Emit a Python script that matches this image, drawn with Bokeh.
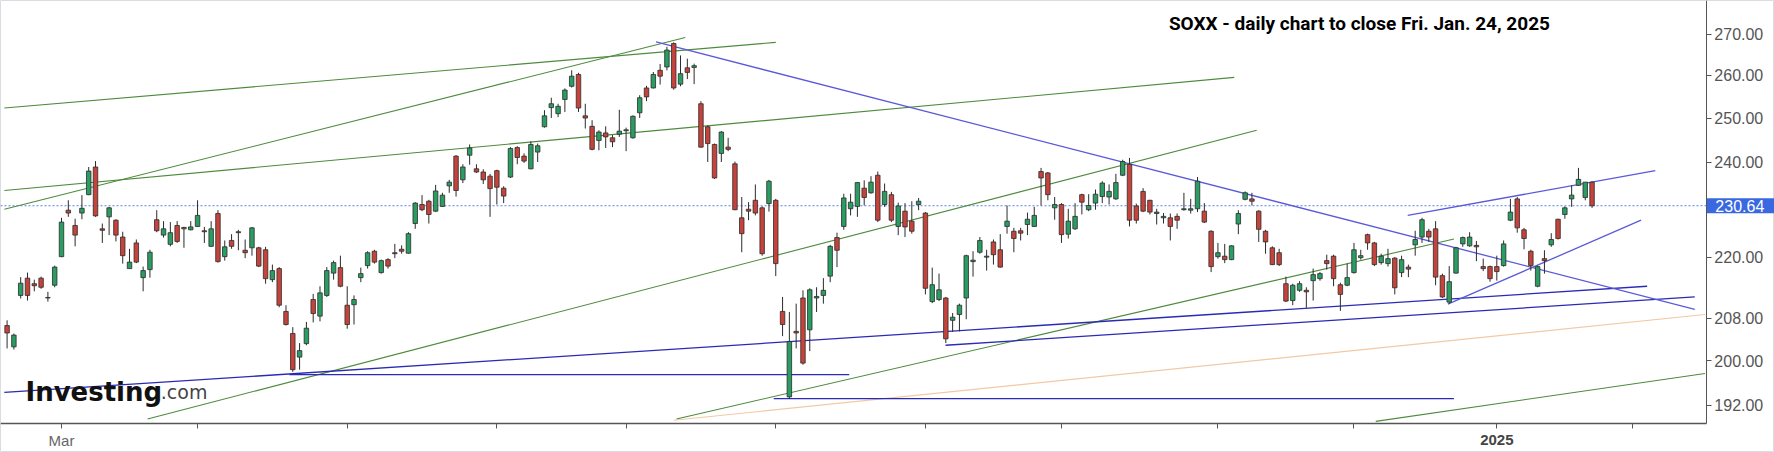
import pandas as pd
from bokeh.plotting import figure
from bokeh.models import (ColumnDataSource, Range1d, FixedTicker, NumeralTickFormatter, Label)
from bokeh.embed import file_html
from bokeh.resources import INLINE
from bokeh.core.properties import value

# ---------------- data ----------------
OPEN = [206.6, 202.6, 212.4, 215.8, 214.7, 215.8, 212.0, 214.4, 220.1, 229.7,
        226.5, 229.1, 233.0, 239.0, 225.8, 228.3, 227.6, 224.1, 217.7, 222.9,
        215.9, 217.5, 227.7, 224.5, 222.6, 226.5, 226.1, 225.6, 226.3, 225.4,
        222.2, 229.0, 220.1, 223.4, 225.0, 221.4, 221.9, 221.9, 221.5, 215.5,
        217.7, 209.3, 205.1, 200.7, 203.2, 211.6, 208.4, 212.4, 216.8, 217.9,
        210.5, 210.6, 215.9, 218.3, 221.2, 216.9, 219.5, 220.9, 221.6, 220.8,
        226.9, 230.9, 231.6, 229.5, 230.5, 234.9, 241.4, 236.2, 241.6, 238.6,
        237.9, 237.0, 238.2, 234.4, 236.8, 243.3, 241.4, 238.6, 242.3, 248.0,
        252.4, 251.0, 254.3, 257.4, 260.2, 250.5, 248.1, 244.9, 246.6, 245.5,
        246.3, 247.1, 245.5, 251.2, 257.0, 257.0, 261.2, 262.0, 267.7, 257.9,
        261.8, 261.9, 253.3, 248.0, 244.0, 242.0, 243.4, 239.7, 228.1, 229.9,
        231.8, 230.2, 231.1, 231.8, 209.3, 193.5, 205.5, 211.9, 205.8, 211.9,
        212.4, 216.2, 224.0, 226.3, 230.0, 230.5, 234.4, 233.4, 237.2, 230.9,
        233.0, 226.3, 229.5, 227.4, 230.9, 229.1, 211.2, 211.6, 211.9, 207.6,
        208.7, 211.9, 219.1, 221.0, 220.0, 223.1, 221.5, 226.3, 225.3, 225.4,
        226.7, 226.3, 238.0, 237.7, 230.2, 230.9, 224.7, 225.8, 233.0, 229.8,
        231.2, 232.6, 232.5, 232.1, 237.2, 239.6, 230.6, 233.7, 231.8, 229.0,
        228.1, 228.1, 228.4, 229.8, 229.7, 230.0, 229.5, 225.3, 220.1, 220.2,
        219.5, 226.8, 232.0, 232.1, 229.5, 225.3, 221.9, 220.9, 214.7, 211.4,
        213.4, 213.4, 215.3, 215.7, 219.3, 220.2, 214.5, 214.4, 216.9, 219.9,
        224.6, 222.9, 218.9, 218.7, 219.8, 216.9, 218.0, 222.5, 224.1, 225.3,
        225.8, 216.3, 211.1, 216.8, 222.7, 222.3, 222.4, 218.1, 218.1, 218.1,
        218.3, 227.6, 232.1, 225.6, 221.2, 214.2, 219.7, 222.5, 227.8, 228.8,
        232.1, 235.0, 232.4, 235.7]
HIGH = [207.6, 205.1, 216.0, 216.9, 215.5, 216.1, 213.1, 218.3, 228.1, 231.8,
        227.9, 232.9, 239.0, 240.3, 226.9, 230.4, 227.8, 225.2, 221.7, 223.6,
        218.1, 221.5, 229.7, 227.4, 227.2, 227.4, 226.2, 227.4, 231.8, 226.2,
        227.4, 229.7, 223.4, 224.7, 225.6, 223.6, 226.2, 222.1, 222.1, 218.5,
        218.0, 210.5, 206.3, 203.3, 207.3, 212.7, 214.2, 218.0, 219.3, 220.3,
        214.2, 212.4, 217.9, 221.2, 221.5, 219.5, 219.8, 222.7, 222.4, 225.1,
        231.4, 232.9, 231.9, 235.1, 233.4, 236.2, 241.6, 239.6, 244.0, 239.6,
        238.5, 237.5, 238.4, 234.8, 243.4, 243.6, 242.0, 244.7, 244.2, 251.8,
        254.7, 253.3, 256.9, 261.2, 260.6, 253.3, 249.5, 247.2, 248.1, 246.1,
        251.9, 247.8, 250.6, 255.3, 257.5, 260.8, 262.7, 266.9, 268.0, 264.8,
        264.0, 262.8, 253.9, 248.3, 244.2, 247.0, 245.5, 240.2, 232.5, 231.4,
        235.2, 230.5, 236.2, 232.1, 212.1, 209.2, 210.8, 213.4, 213.8, 214.0,
        215.8, 222.5, 225.0, 233.2, 233.2, 235.7, 236.1, 237.0, 238.0, 235.4,
        233.6, 231.3, 231.2, 231.6, 232.3, 229.3, 217.9, 216.7, 212.1, 209.0,
        210.8, 220.5, 221.2, 224.1, 221.5, 223.6, 224.7, 230.7, 226.0, 226.0,
        229.2, 230.4, 238.8, 237.9, 232.5, 231.2, 230.0, 231.2, 233.2, 233.1,
        234.1, 235.9, 235.2, 237.5, 240.6, 241.0, 231.1, 234.4, 231.9, 230.0,
        229.1, 229.0, 229.0, 233.4, 232.1, 236.8, 231.2, 225.5, 222.9, 222.7,
        222.4, 229.7, 233.7, 233.4, 229.7, 225.6, 222.2, 221.7, 216.1, 214.7,
        215.2, 214.0, 217.7, 217.0, 220.5, 220.5, 214.9, 218.7, 222.9, 221.5,
        224.8, 223.1, 220.7, 221.7, 220.0, 220.3, 218.5, 225.4, 228.1, 225.8,
        227.4, 216.7, 218.2, 222.1, 224.2, 225.1, 223.3, 219.7, 218.3, 220.3,
        223.4, 232.1, 232.5, 226.0, 221.5, 218.3, 221.4, 224.9, 227.9, 230.5,
        235.0, 238.8, 235.7, 235.9]
LOW = [202.3, 202.1, 211.8, 211.4, 213.2, 213.7, 211.2, 214.0, 220.0, 228.3,
       222.2, 227.8, 232.9, 228.3, 222.9, 224.5, 223.2, 218.7, 217.7, 218.8,
       213.2, 215.9, 225.1, 224.0, 222.2, 222.9, 221.9, 225.5, 226.2, 222.9,
       222.1, 218.9, 219.3, 221.7, 221.4, 219.8, 220.3, 218.0, 214.7, 215.0,
       210.1, 206.6, 198.0, 198.4, 202.9, 207.2, 207.4, 212.1, 215.5, 214.0,
       206.0, 206.8, 215.0, 217.7, 218.7, 216.7, 217.7, 219.8, 220.7, 220.7,
       225.8, 229.5, 226.9, 229.3, 230.4, 233.4, 232.6, 235.5, 239.5, 237.7,
       235.3, 228.3, 230.9, 231.2, 236.6, 239.6, 239.9, 238.5, 240.1, 247.8,
       250.0, 250.2, 251.4, 257.1, 251.4, 247.6, 242.7, 242.7, 243.2, 243.4,
       245.7, 242.5, 245.3, 250.0, 253.9, 256.9, 257.8, 261.2, 256.6, 257.4,
       259.1, 257.9, 243.3, 240.1, 236.4, 240.1, 242.5, 229.7, 221.0, 227.6,
       228.6, 220.3, 229.4, 216.2, 204.6, 193.2, 202.3, 199.3, 201.8, 209.2,
       210.8, 215.0, 218.0, 225.6, 228.6, 228.3, 230.7, 233.2, 227.2, 230.4,
       227.2, 224.5, 224.1, 224.8, 229.7, 212.6, 210.9, 211.3, 203.3, 205.4,
       205.5, 207.8, 216.1, 220.7, 217.3, 218.5, 217.9, 224.8, 221.0, 223.4,
       224.5, 226.2, 230.7, 231.8, 227.7, 222.9, 223.8, 225.6, 228.8, 229.5,
       229.8, 231.2, 230.9, 231.9, 237.0, 226.3, 226.9, 229.3, 228.8, 226.7,
       226.9, 223.4, 225.8, 229.6, 229.0, 229.3, 227.0, 217.0, 219.7, 218.8,
       219.4, 224.7, 231.8, 230.7, 223.1, 220.7, 218.4, 218.2, 211.1, 210.5,
       213.1, 210.0, 211.4, 215.3, 217.5, 214.2, 209.4, 214.2, 216.7, 219.5,
       221.5, 218.2, 218.5, 218.1, 212.6, 216.0, 216.0, 220.3, 222.9, 223.1,
       214.4, 211.9, 210.8, 216.7, 222.1, 222.1, 219.2, 217.2, 215.1, 215.3,
       218.1, 227.4, 225.0, 221.6, 217.3, 214.0, 216.7, 222.1, 223.6, 227.9,
       230.4, 234.9, 231.8, 230.2]
CLOSE = [205.2, 204.8, 214.8, 212.4, 214.3, 214.0, 211.9, 218.0, 227.2, 229.1,
         224.5, 230.1, 238.1, 228.5, 225.5, 230.2, 224.5, 220.3, 219.0, 219.0,
         217.3, 221.0, 225.4, 225.8, 225.0, 223.2, 225.8, 226.2, 228.6, 225.2,
         225.8, 219.1, 222.1, 222.2, 225.2, 220.9, 226.0, 218.2, 215.7, 217.3,
         210.5, 206.8, 198.4, 201.9, 206.1, 208.9, 212.9, 217.3, 218.9, 214.2,
         206.8, 211.6, 216.7, 220.9, 219.0, 219.3, 218.2, 220.7, 221.2, 224.8,
         231.2, 229.8, 228.8, 233.8, 232.9, 235.7, 233.9, 239.0, 243.2, 237.9,
         236.2, 234.3, 234.6, 232.7, 243.1, 241.1, 240.3, 244.0, 243.7, 250.5,
         253.3, 252.7, 256.5, 259.8, 252.3, 250.0, 242.9, 246.8, 245.7, 244.6,
         247.0, 247.3, 250.4, 254.7, 254.9, 260.2, 259.8, 266.1, 257.0, 260.4,
         260.7, 262.3, 243.4, 244.2, 236.6, 246.8, 242.9, 229.8, 224.8, 229.5,
         229.1, 220.7, 235.9, 218.7, 206.8, 203.6, 205.2, 199.6, 213.5, 212.2,
         213.4, 222.2, 221.4, 232.3, 231.4, 235.6, 232.4, 235.7, 227.6, 233.7,
         227.6, 230.6, 226.2, 225.3, 231.6, 213.8, 214.5, 213.5, 204.1, 208.2,
         210.5, 220.3, 219.4, 223.4, 220.2, 220.5, 218.0, 227.4, 223.8, 224.9,
         227.8, 228.6, 236.6, 233.0, 230.9, 224.6, 227.4, 228.4, 231.4, 230.7,
         233.1, 235.5, 233.7, 235.6, 240.2, 227.6, 227.6, 229.5, 229.3, 229.3,
         228.4, 226.3, 227.6, 230.0, 230.0, 235.9, 227.2, 218.1, 220.9, 219.5,
         222.3, 229.0, 233.4, 231.6, 225.7, 223.1, 218.5, 218.5, 211.3, 214.4,
         214.7, 213.1, 216.5, 216.7, 218.7, 215.7, 212.6, 215.9, 221.5, 220.3,
         222.9, 218.5, 220.2, 219.7, 213.9, 219.5, 217.6, 223.6, 227.7, 224.1,
         216.0, 212.1, 215.1, 221.9, 224.0, 224.1, 222.1, 217.7, 215.7, 217.1,
         222.7, 229.3, 226.0, 223.8, 218.3, 218.1, 219.3, 223.6, 223.8, 230.2,
         232.9, 236.3, 235.7, 230.64]

FIRST_DAY = "2024-02-20"
HOLIDAYS = ["2024-03-29", "2024-05-27", "2024-06-19", "2024-07-04", "2024-09-02",
            "2024-11-28", "2024-12-25", "2025-01-01", "2025-01-09", "2025-01-20",
            "2025-02-17"]
LAST_PRICE = 230.64
PRICE_TICKS = [192, 200, 208, 220, 240, 250, 260, 270]
MONTH_LABELS = {"2024-03": "Mar", "2025-01": "2025"}
TITLE = "SOXX - daily chart to close Fri. Jan. 24, 2025"

# trend lines: (start index, start price) -> (end index, end price)
GREEN_X0 = [-0.4, -0.4, -0.4, 20.65, 98.4, 201.2]
GREEN_Y0 = [252.3, 229.9, 233.9, 189.6, 189.6, 189.2]
GREEN_X1 = [113.0, 99.7, 180.4, 183.7, 212.7, 249.6]
GREEN_Y1 = [268.0, 269.2, 259.5, 247.2, 223.7, 197.7]

NAVY_X0 = [-0.4, 137.96, 41.5, 112.7]
NAVY_Y0 = [194.3, 202.9, 197.5, 193.2]
NAVY_X1 = [241.1, 248.1, 123.8, 212.7]
NAVY_Y1 = [214.2, 212.1, 197.5, 193.2]

VIOLET_X0 = [95.4, 205.9, 211.8]
VIOLET_Y0 = [268.1, 228.6, 210.7]
VIOLET_X1 = [248.1, 242.3, 240.2]
VIOLET_Y1 = [209.7, 238.2, 227.6]

PEACH_X0 = [98.0]
PEACH_Y0 = [189.4]
PEACH_X1 = [249.6]
PEACH_Y1 = [208.7]

# ---------------- layout constants (view window, not data) ----------------
X_VIEW = (-0.968, 259.82)      # full canvas width in bar-index units
Y_VIEW = (183.86, 278.5)       # full canvas height in price units (log)
X_AXIS_AT = 249.8              # where the price axis sits
Y_AXIS_AT = 188.8              # where the time axis sits
LABEL_Y = 185.9                # month labels below the time axis

# ---------------- build ----------------
n = len(OPEN)
cal = pd.bdate_range(FIRST_DAY, "2025-02-28", freq="C", holidays=HOLIDAYS)
idx = list(range(n))

month_idx, month_key = [], []
prev = None
for i, d in enumerate(cal):
    k = d.strftime("%Y-%m")
    if prev is not None and k != prev:
        month_idx.append(i)
        month_key.append(k)
    prev = k

up = [c >= o for o, c in zip(OPEN, CLOSE)]
def pick(flag):
    sel = [i for i in idx if up[i] == flag]
    return ColumnDataSource(dict(
        x=sel,
        top=[max(OPEN[i], CLOSE[i]) for i in sel],
        bottom=[min(OPEN[i], CLOSE[i]) for i in sel],
        high=[HIGH[i] for i in sel], low=[LOW[i] for i in sel]))
src_up, src_dn = pick(True), pick(False)

p = figure(width=1774, height=452, output_backend="svg", toolbar_location=None,
           x_range=Range1d(*X_VIEW), y_range=Range1d(*Y_VIEW),
           y_axis_type="log", y_axis_location="right",
           min_border=0)
p.background_fill_color = "white"
p.border_fill_color = "white"
p.outline_line_color = "#d9dde3"
p.grid.visible = False

# last-price dotted line (up to the price axis)
p.segment(x0=[X_VIEW[0]], x1=[X_AXIS_AT], y0=[LAST_PRICE], y1=[LAST_PRICE],
          line_color="#5b7fe6", line_dash="2 2", line_width=1)

# trend lines
def seg(x0, y0, x1, y1, color, width=1.1):
    p.segment(x0=x0, y0=y0, x1=x1, y1=y1, line_color=color, line_width=width)

seg(GREEN_X0, GREEN_Y0, GREEN_X1, GREEN_Y1, "#4e8a3e")
seg(PEACH_X0, PEACH_Y0, PEACH_X1, PEACH_Y1, "#f2c9a5")
seg(NAVY_X0, NAVY_Y0, NAVY_X1, NAVY_Y1, "#2a2ab4", 1.3)
seg(VIOLET_X0, VIOLET_Y0, VIOLET_X1, VIOLET_Y1, "#5a5ad8", 1.3)

# candles
for src, fill in ((src_up, "#2a9d62"), (src_dn, "#c6433b")):
    p.segment(x0="x", y0="low", x1="x", y1="high", source=src, line_color="#2b2b2b", line_width=1)
    p.vbar(x="x", top="top", bottom="bottom", width=0.66, source=src,
           fill_color=fill, line_color="#2b2b2b", line_width=0.8)

# last-price badge on the price axis
badge_half = 1.0069
p.quad(left=[X_AXIS_AT], right=[X_VIEW[1]], bottom=[LAST_PRICE / badge_half],
       top=[LAST_PRICE * badge_half], fill_color="#3a68e0", line_color=None)
p.text(x=[X_AXIS_AT], y=[LAST_PRICE], text=[f"{LAST_PRICE:.2f}"], x_offset=9,
       text_baseline="middle", text_align="left", text_color="white",
       text_font=value("Liberation Sans"), text_font_size="16px")

# price axis (right), pinned at the end of the bars
yax = p.yaxis[0]
yax.fixed_location = X_AXIS_AT
yax.bounds = (Y_AXIS_AT, Y_VIEW[1])
yax.ticker = FixedTicker(ticks=PRICE_TICKS)
yax.formatter = NumeralTickFormatter(format="0.00")
yax.axis_line_color = "#555555"
yax.major_tick_line_color = "#555555"
yax.major_tick_out = 5
yax.major_tick_in = 0
yax.minor_tick_line_color = None
yax.major_label_text_color = "#555555"
yax.major_label_text_font = "Liberation Sans"
yax.major_label_text_font_size = "16px"
yax.major_label_standoff = 3

# time axis (below), pinned at the bottom of the price area
xax = p.xaxis[0]
xax.fixed_location = Y_AXIS_AT
xax.bounds = (X_VIEW[0], X_AXIS_AT)
xax.ticker = FixedTicker(ticks=month_idx)
xax.major_label_overrides = {m: "" for m in month_idx}
xax.axis_line_color = "#555555"
xax.axis_line_width = 1.5
xax.major_tick_line_color = "#555555"
xax.major_tick_out = 5
xax.major_tick_in = 0
xax.minor_tick_line_color = None
xax.major_label_text_font_size = "1px"

for i, k in zip(month_idx, month_key):
    if k in MONTH_LABELS:
        bold = MONTH_LABELS[k] == "2025"
        p.add_layout(Label(x=i, y=LABEL_Y, text=MONTH_LABELS[k], text_align="center",
                           text_baseline="middle", text_font="Liberation Sans",
                           text_font_size="15px",
                           text_font_style="bold" if bold else "normal",
                           text_color="#444444" if bold else "#666666"))

# title
p.add_layout(Label(x=198.8, y=272.7, text=TITLE,
                   text_align="center", text_baseline="middle", text_font="Roboto",
                   text_font_style="bold", text_font_size="19px", text_color="black"))

# logo
p.add_layout(Label(x=2.7, y=194.3, text="Investing", text_align="left",
                   text_baseline="alphabetic", text_font="DejaVu Sans",
                   text_font_style="bold", text_font_size="26px", text_color="#111111"))
p.add_layout(Label(x=22.6, y=194.3, text=".com", text_align="left",
                   text_baseline="alphabetic", text_font="DejaVu Sans",
                   text_font_size="19px", text_color="#444444"))

open("out.html", "w").write(file_html(p, INLINE))
